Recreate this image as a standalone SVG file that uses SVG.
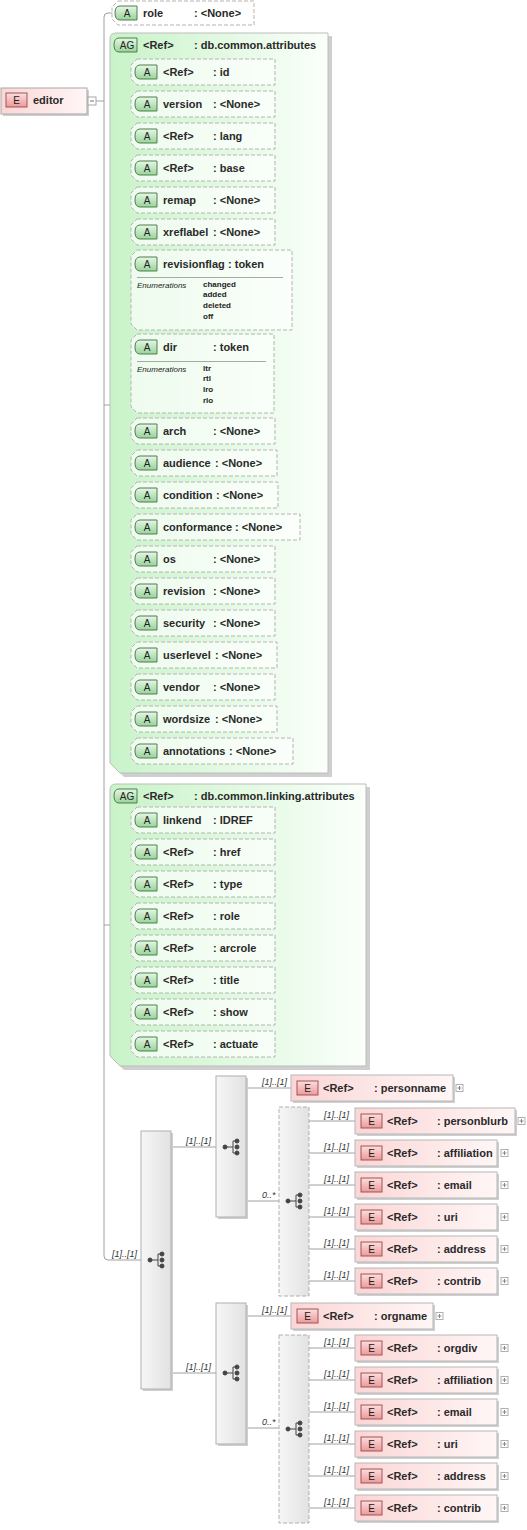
<svg xmlns="http://www.w3.org/2000/svg" xmlns:xlink="http://www.w3.org/1999/xlink" width="527" height="1530" viewBox="0 0 527 1530">
<style>
.t{font-family:"Liberation Sans",Arial,sans-serif;font-size:11px;font-weight:bold;fill:#2a2a2a}
.bt{font-family:"Liberation Sans",Arial,sans-serif;font-size:10px;fill:#222;text-anchor:middle}
.lbl{font-family:"Liberation Sans",Arial,sans-serif;font-size:9px;font-style:italic;fill:#333}
.eh{font-family:"Liberation Sans",Arial,sans-serif;font-size:8px;font-style:italic;fill:#222}
.ev{font-family:"Liberation Sans",Arial,sans-serif;font-size:8px;font-weight:bold;fill:#222}
.c{stroke:#a0a0a0;stroke-width:1;fill:none}
.attr{fill:#ffffff;fill-opacity:0.65;stroke:#b4b4b4;stroke-dasharray:4,2}
.sep{stroke:#a8a8a8;stroke-width:1}
.grp{fill:url(#gG);stroke:#bdbdbd}
.shd{fill:#cfcfcf}
.el{fill:url(#gEl);stroke:#b8b8b8}
.seq{fill:url(#gS);stroke:#b0b0b0}
.cho{fill:url(#gS);stroke:#b0b0b0;stroke-dasharray:4,2}
.ico{fill:#444;stroke:#444}
</style>
<defs>
<linearGradient id="gG" x1="0" y1="0" x2="1" y2="0"><stop offset="0" stop-color="#c8f3c8"/><stop offset="1" stop-color="#fbfffb"/></linearGradient>
<linearGradient id="gA" x1="0" y1="0" x2="0" y2="1"><stop offset="0" stop-color="#e6f7e6"/><stop offset="1" stop-color="#98d498"/></linearGradient>
<linearGradient id="gE" x1="0" y1="0" x2="0" y2="1"><stop offset="0" stop-color="#fcdede"/><stop offset="1" stop-color="#eb9a9a"/></linearGradient>
<linearGradient id="gEl" x1="0" y1="0" x2="1" y2="0"><stop offset="0" stop-color="#fbd6d6"/><stop offset="1" stop-color="#fff6f6"/></linearGradient>
<linearGradient id="gS" x1="0" y1="0" x2="1" y2="0"><stop offset="0" stop-color="#f6f6f6"/><stop offset="1" stop-color="#e2e2e2"/></linearGradient>
<g id="bA"><path d="M5,-7H22V7H5Q0,7 0,0Q0,-7 5,-7Z" fill="url(#gA)" stroke="#4f7f4f"/><text class="bt" x="12" y="4">A</text></g>
<g id="bAG"><path d="M5,-7H23V7H5Q0,7 0,0Q0,-7 5,-7Z" fill="url(#gA)" stroke="#4f7f4f"/><text class="bt" x="13" y="4">AG</text></g>
<g id="bE"><rect x="0" y="-7" width="21" height="14" fill="url(#gE)" stroke="#a05454"/><text class="bt" x="10.5" y="4">E</text></g>
<g id="plus"><rect x="0" y="-3.5" width="7" height="7" fill="#fff" stroke="#b0b0b0"/><path d="M1.5,0H5.5M3.5,-2V2" stroke="#888"/></g>
<g id="seqI"><path d="M-6,0H2M2,-6V6M2,-6H6M2,6H6" class="ico" fill="none"/><circle cx="-6" cy="0" r="2" class="ico"/><circle cx="6" cy="-6" r="2" class="ico"/><circle cx="6" cy="0" r="2" class="ico"/><circle cx="6" cy="6" r="2" class="ico"/></g>
</defs>

<g id="connectors">
<path class="c" d="M96,101H104M113,13H108Q104,13 104,17V1256Q104,1260 108,1260H141M104,405H110M104,925H110"/>
<path class="c" d="M133,72H126Q122,72 122,76V747Q122,751 126,751H133M122,104H133M122,136H133M122,168H133M122,200H133M122,232H133M122,290H133M122,373H133M122,431H133M122,463H133M122,495H133M122,527H133M122,559H133M122,591H133M122,623H133M122,655H133M122,687H133M122,719H133"/>
<path class="c" d="M133,820H126Q122,820 122,824V1040Q122,1044 126,1044H133M122,852H133M122,884H133M122,916H133M122,948H133M122,980H133M122,1012H133"/>
<path class="c" d="M171,1147H216M171,1373H216M246,1088H291M246,1201H279M246,1316H291M246,1428H279"/>
<path class="c" d="M309,1121H355M309,1153H355M309,1185H355M309,1217H355M309,1249H355M309,1281H355M309,1348H355M309,1380H355M309,1412H355M309,1444H355M309,1476H355M309,1508H355"/>
<text class="lbl" x="112" y="1257">[1]..[1]</text>
<text class="lbl" x="186" y="1144">[1]..[1]</text>
<text class="lbl" x="186" y="1370">[1]..[1]</text>
<text class="lbl" x="262" y="1085">[1]..[1]</text>
<text class="lbl" x="262" y="1198">0..*</text>
<text class="lbl" x="262" y="1313">[1]..[1]</text>
<text class="lbl" x="262" y="1425">0..*</text>
<text class="lbl" x="324" y="1118">[1]..[1]</text>
<text class="lbl" x="324" y="1150">[1]..[1]</text>
<text class="lbl" x="324" y="1182">[1]..[1]</text>
<text class="lbl" x="324" y="1214">[1]..[1]</text>
<text class="lbl" x="324" y="1246">[1]..[1]</text>
<text class="lbl" x="324" y="1278">[1]..[1]</text>
<text class="lbl" x="324" y="1345">[1]..[1]</text>
<text class="lbl" x="324" y="1377">[1]..[1]</text>
<text class="lbl" x="324" y="1409">[1]..[1]</text>
<text class="lbl" x="324" y="1441">[1]..[1]</text>
<text class="lbl" x="324" y="1473">[1]..[1]</text>
<text class="lbl" x="324" y="1505">[1]..[1]</text>
</g>

<g id="editor">
<rect class="shd" x="3" y="90" width="86" height="26"/>
<rect x="1" y="88" width="86" height="26" fill="url(#gEl)" stroke="#a8a8a8"/>
<use href="#bE" x="6" y="100"/>
<text class="t" x="33" y="104">editor</text>
<rect x="88" y="97" width="8" height="8" fill="#fff" stroke="#a8a8a8"/>
<path d="M90,101H94" stroke="#777"/>
</g>

<g id="attr-role">
<path class="attr" d="M118,1H254V25H118L112,19V7Z"/>
<use href="#bA" x="115" y="13"/>
<text class="t" x="143" y="17">role</text><text class="t" x="194" y="17">: &lt;None&gt;</text>
</g>

<g id="db.common.attributes">
<path class="shd" d="M119,36H332V777H124L114,767V42Q114,36 119,36Z"/>
<path class="grp" d="M116,33H328V773H120L110,763V39Q110,33 116,33Z"/>
<use href="#bAG" x="114" y="45"/>
<text class="t" x="143" y="49">&lt;Ref&gt;</text><text class="t" x="194" y="49">: db.common.attributes</text>

<g id="attr-id"><path class="attr" d="M137,59H275V85H137L131,79V65Z"/><use href="#bA" x="135" y="72"/><text class="t" x="163" y="76">&lt;Ref&gt;</text><text class="t" x="213" y="76">: id</text></g>
<g id="attr-version"><path class="attr" d="M137,91H275V117H137L131,111V97Z"/><use href="#bA" x="135" y="104"/><text class="t" x="163" y="108">version</text><text class="t" x="213" y="108">: &lt;None&gt;</text></g>
<g id="attr-lang"><path class="attr" d="M137,123H275V149H137L131,143V129Z"/><use href="#bA" x="135" y="136"/><text class="t" x="163" y="140">&lt;Ref&gt;</text><text class="t" x="213" y="140">: lang</text></g>
<g id="attr-base"><path class="attr" d="M137,155H275V181H137L131,175V161Z"/><use href="#bA" x="135" y="168"/><text class="t" x="163" y="172">&lt;Ref&gt;</text><text class="t" x="213" y="172">: base</text></g>
<g id="attr-remap"><path class="attr" d="M137,187H275V213H137L131,207V193Z"/><use href="#bA" x="135" y="200"/><text class="t" x="163" y="204">remap</text><text class="t" x="213" y="204">: &lt;None&gt;</text></g>
<g id="attr-xreflabel"><path class="attr" d="M137,219H275V245H137L131,239V225Z"/><use href="#bA" x="135" y="232"/><text class="t" x="163" y="236">xreflabel</text><text class="t" x="213" y="236">: &lt;None&gt;</text></g>
<g id="attr-revisionflag"><path class="attr" d="M137,250H292V330H137L131,324V256Z"/><use href="#bA" x="135" y="264"/><text class="t" x="163" y="268">revisionflag</text><text class="t" x="228" y="268">: token</text>
<path class="sep" d="M137,277.5H283"/>
<text class="eh" x="137" y="288">Enumerations</text>
<text class="ev" x="203" y="287">changed</text><text class="ev" x="203" y="297">added</text><text class="ev" x="203" y="308">deleted</text><text class="ev" x="203" y="319">off</text></g>
<g id="attr-dir"><path class="attr" d="M137,334H274V413H137L131,407V340Z"/><use href="#bA" x="135" y="347"/><text class="t" x="163" y="351">dir</text><text class="t" x="213" y="351">: token</text>
<path class="sep" d="M137,361.5H266"/>
<text class="eh" x="137" y="372">Enumerations</text>
<text class="ev" x="203" y="371">ltr</text><text class="ev" x="203" y="381">rtl</text><text class="ev" x="203" y="392">lro</text><text class="ev" x="203" y="403">rlo</text></g>
<g id="attr-arch"><path class="attr" d="M137,418H275V444H137L131,438V424Z"/><use href="#bA" x="135" y="431"/><text class="t" x="163" y="435">arch</text><text class="t" x="213" y="435">: &lt;None&gt;</text></g>
<g id="attr-audience"><path class="attr" d="M137,450H277V476H137L131,470V456Z"/><use href="#bA" x="135" y="463"/><text class="t" x="163" y="467">audience</text><text class="t" x="215" y="467">: &lt;None&gt;</text></g>
<g id="attr-condition"><path class="attr" d="M137,482H278V508H137L131,502V488Z"/><use href="#bA" x="135" y="495"/><text class="t" x="163" y="499">condition</text><text class="t" x="216" y="499">: &lt;None&gt;</text></g>
<g id="attr-conformance"><path class="attr" d="M137,514H300V540H137L131,534V520Z"/><use href="#bA" x="135" y="527"/><text class="t" x="163" y="531">conformance</text><text class="t" x="235" y="531">: &lt;None&gt;</text></g>
<g id="attr-os"><path class="attr" d="M137,546H275V572H137L131,566V552Z"/><use href="#bA" x="135" y="559"/><text class="t" x="163" y="563">os</text><text class="t" x="213" y="563">: &lt;None&gt;</text></g>
<g id="attr-revision"><path class="attr" d="M137,578H275V604H137L131,598V584Z"/><use href="#bA" x="135" y="591"/><text class="t" x="163" y="595">revision</text><text class="t" x="213" y="595">: &lt;None&gt;</text></g>
<g id="attr-security"><path class="attr" d="M137,610H275V636H137L131,630V616Z"/><use href="#bA" x="135" y="623"/><text class="t" x="163" y="627">security</text><text class="t" x="213" y="627">: &lt;None&gt;</text></g>
<g id="attr-userlevel"><path class="attr" d="M137,642H277V668H137L131,662V648Z"/><use href="#bA" x="135" y="655"/><text class="t" x="163" y="659">userlevel</text><text class="t" x="215" y="659">: &lt;None&gt;</text></g>
<g id="attr-vendor"><path class="attr" d="M137,674H275V700H137L131,694V680Z"/><use href="#bA" x="135" y="687"/><text class="t" x="163" y="691">vendor</text><text class="t" x="213" y="691">: &lt;None&gt;</text></g>
<g id="attr-wordsize"><path class="attr" d="M137,706H277V732H137L131,726V712Z"/><use href="#bA" x="135" y="719"/><text class="t" x="163" y="723">wordsize</text><text class="t" x="215" y="723">: &lt;None&gt;</text></g>
<g id="attr-annotations"><path class="attr" d="M137,738H293V764H137L131,758V744Z"/><use href="#bA" x="135" y="751"/><text class="t" x="163" y="755">annotations</text><text class="t" x="229" y="755">: &lt;None&gt;</text></g>
</g>

<g id="db.common.linking.attributes">
<path class="shd" d="M119,787H370V1070H124L114,1060V793Q114,787 119,787Z"/>
<path class="grp" d="M116,784H366V1066H120L110,1056V790Q110,784 116,784Z"/>
<use href="#bAG" x="114" y="796"/>
<text class="t" x="143" y="800">&lt;Ref&gt;</text><text class="t" x="194" y="800">: db.common.linking.attributes</text>
<g id="attr-linkend"><path class="attr" d="M137,807H275V833H137L131,827V813Z"/><use href="#bA" x="135" y="820"/><text class="t" x="163" y="824">linkend</text><text class="t" x="213" y="824">: IDREF</text></g>
<g id="attr-href"><path class="attr" d="M137,839H275V865H137L131,859V845Z"/><use href="#bA" x="135" y="852"/><text class="t" x="163" y="856">&lt;Ref&gt;</text><text class="t" x="213" y="856">: href</text></g>
<g id="attr-type"><path class="attr" d="M137,871H275V897H137L131,891V877Z"/><use href="#bA" x="135" y="884"/><text class="t" x="163" y="888">&lt;Ref&gt;</text><text class="t" x="213" y="888">: type</text></g>
<g id="attr-role2"><path class="attr" d="M137,903H275V929H137L131,923V909Z"/><use href="#bA" x="135" y="916"/><text class="t" x="163" y="920">&lt;Ref&gt;</text><text class="t" x="213" y="920">: role</text></g>
<g id="attr-arcrole"><path class="attr" d="M137,935H275V961H137L131,955V941Z"/><use href="#bA" x="135" y="948"/><text class="t" x="163" y="952">&lt;Ref&gt;</text><text class="t" x="213" y="952">: arcrole</text></g>
<g id="attr-title"><path class="attr" d="M137,967H275V993H137L131,987V973Z"/><use href="#bA" x="135" y="980"/><text class="t" x="163" y="984">&lt;Ref&gt;</text><text class="t" x="213" y="984">: title</text></g>
<g id="attr-show"><path class="attr" d="M137,999H275V1025H137L131,1019V1005Z"/><use href="#bA" x="135" y="1012"/><text class="t" x="163" y="1016">&lt;Ref&gt;</text><text class="t" x="213" y="1016">: show</text></g>
<g id="attr-actuate"><path class="attr" d="M137,1031H275V1057H137L131,1051V1037Z"/><use href="#bA" x="135" y="1044"/><text class="t" x="163" y="1048">&lt;Ref&gt;</text><text class="t" x="213" y="1048">: actuate</text></g>
</g>

<g id="seq-main"><rect class="shd" x="143" y="1133" width="30" height="258"/><rect class="seq" x="141" y="1131" width="30" height="258"/><use href="#seqI" x="156" y="1260"/></g>
<g id="seq-person"><rect class="shd" x="218" y="1078" width="30" height="141"/><rect class="seq" x="216" y="1076" width="30" height="141"/><use href="#seqI" x="231" y="1147"/></g>
<g id="seq-org"><rect class="shd" x="218" y="1305" width="30" height="141"/><rect class="seq" x="216" y="1303" width="30" height="141"/><use href="#seqI" x="231" y="1373"/></g>
<g id="choice-person"><rect class="cho" x="279" y="1107" width="30" height="189"/><use href="#seqI" x="294" y="1201"/></g>
<g id="choice-org"><rect class="cho" x="279" y="1335" width="30" height="188"/><use href="#seqI" x="294" y="1429"/></g>

<g id="el-personname"><rect class="shd" x="293" y="1077" width="162" height="26"/><rect class="el" x="291" y="1075" width="162" height="26"/><use href="#bE" x="297" y="1088"/><text class="t" x="323" y="1092">&lt;Ref&gt;</text><text class="t" x="374" y="1092">: personname</text><use href="#plus" x="456" y="1088"/></g>
<g id="el-personblurb"><rect class="shd" x="357" y="1110" width="160" height="26"/><rect class="el" x="355" y="1108" width="160" height="26"/><use href="#bE" x="361" y="1121"/><text class="t" x="387" y="1125">&lt;Ref&gt;</text><text class="t" x="437" y="1125">: personblurb</text><use href="#plus" x="518" y="1121"/></g>
<g id="el-affiliation1"><rect class="shd" x="357" y="1142" width="142" height="26"/><rect class="el" x="355" y="1140" width="142" height="26"/><use href="#bE" x="361" y="1153"/><text class="t" x="387" y="1157">&lt;Ref&gt;</text><text class="t" x="437" y="1157">: affiliation</text><use href="#plus" x="501" y="1153"/></g>
<g id="el-email1"><rect class="shd" x="357" y="1174" width="142" height="26"/><rect class="el" x="355" y="1172" width="142" height="26"/><use href="#bE" x="361" y="1185"/><text class="t" x="387" y="1189">&lt;Ref&gt;</text><text class="t" x="437" y="1189">: email</text><use href="#plus" x="501" y="1185"/></g>
<g id="el-uri1"><rect class="shd" x="357" y="1206" width="142" height="26"/><rect class="el" x="355" y="1204" width="142" height="26"/><use href="#bE" x="361" y="1217"/><text class="t" x="387" y="1221">&lt;Ref&gt;</text><text class="t" x="437" y="1221">: uri</text><use href="#plus" x="501" y="1217"/></g>
<g id="el-address1"><rect class="shd" x="357" y="1238" width="142" height="26"/><rect class="el" x="355" y="1236" width="142" height="26"/><use href="#bE" x="361" y="1249"/><text class="t" x="387" y="1253">&lt;Ref&gt;</text><text class="t" x="437" y="1253">: address</text><use href="#plus" x="501" y="1249"/></g>
<g id="el-contrib1"><rect class="shd" x="357" y="1270" width="142" height="26"/><rect class="el" x="355" y="1268" width="142" height="26"/><use href="#bE" x="361" y="1281"/><text class="t" x="387" y="1285">&lt;Ref&gt;</text><text class="t" x="437" y="1285">: contrib</text><use href="#plus" x="501" y="1281"/></g>

<g id="el-orgname"><rect class="shd" x="293" y="1305" width="142" height="26"/><rect class="el" x="291" y="1303" width="142" height="26"/><use href="#bE" x="297" y="1316"/><text class="t" x="323" y="1320">&lt;Ref&gt;</text><text class="t" x="374" y="1320">: orgname</text><use href="#plus" x="436" y="1316"/></g>
<g id="el-orgdiv"><rect class="shd" x="357" y="1337" width="142" height="26"/><rect class="el" x="355" y="1335" width="142" height="26"/><use href="#bE" x="361" y="1348"/><text class="t" x="387" y="1352">&lt;Ref&gt;</text><text class="t" x="437" y="1352">: orgdiv</text><use href="#plus" x="501" y="1348"/></g>
<g id="el-affiliation2"><rect class="shd" x="357" y="1369" width="142" height="26"/><rect class="el" x="355" y="1367" width="142" height="26"/><use href="#bE" x="361" y="1380"/><text class="t" x="387" y="1384">&lt;Ref&gt;</text><text class="t" x="437" y="1384">: affiliation</text><use href="#plus" x="501" y="1380"/></g>
<g id="el-email2"><rect class="shd" x="357" y="1401" width="142" height="26"/><rect class="el" x="355" y="1399" width="142" height="26"/><use href="#bE" x="361" y="1412"/><text class="t" x="387" y="1416">&lt;Ref&gt;</text><text class="t" x="437" y="1416">: email</text><use href="#plus" x="501" y="1412"/></g>
<g id="el-uri2"><rect class="shd" x="357" y="1433" width="142" height="26"/><rect class="el" x="355" y="1431" width="142" height="26"/><use href="#bE" x="361" y="1444"/><text class="t" x="387" y="1448">&lt;Ref&gt;</text><text class="t" x="437" y="1448">: uri</text><use href="#plus" x="501" y="1444"/></g>
<g id="el-address2"><rect class="shd" x="357" y="1465" width="142" height="26"/><rect class="el" x="355" y="1463" width="142" height="26"/><use href="#bE" x="361" y="1476"/><text class="t" x="387" y="1480">&lt;Ref&gt;</text><text class="t" x="437" y="1480">: address</text><use href="#plus" x="501" y="1476"/></g>
<g id="el-contrib2"><rect class="shd" x="357" y="1497" width="142" height="26"/><rect class="el" x="355" y="1495" width="142" height="26"/><use href="#bE" x="361" y="1508"/><text class="t" x="387" y="1512">&lt;Ref&gt;</text><text class="t" x="437" y="1512">: contrib</text><use href="#plus" x="501" y="1508"/></g>
</svg>
